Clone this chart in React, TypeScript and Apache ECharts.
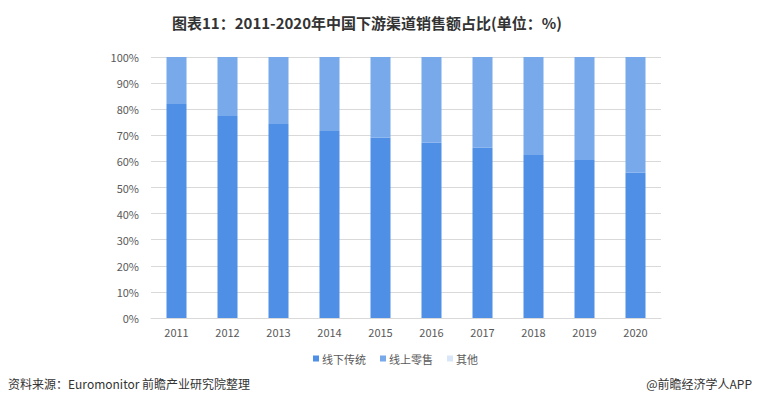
import React, { useEffect, useRef } from "react";
import * as echarts from "echarts";

const years = ["2011", "2012", "2013", "2014", "2015", "2016", "2017", "2018", "2019", "2020"];
const offline = [82.0, 77.4, 74.3, 71.6, 69.2, 67.2, 65.2, 62.5, 60.5, 55.7];
const online = [18.0, 22.6, 25.7, 28.4, 30.8, 32.8, 34.8, 37.5, 39.5, 44.3];
const others = [0, 0, 0, 0, 0, 0, 0, 0, 0, 0];
const seriesNames = ["线下传统", "线上零售", "其他"];
const seriesColors = ["#4f8fe6", "#77a9eb", "#d9e6f8"];

export default function App() {
  const ref = useRef<HTMLDivElement>(null);
  useEffect(() => {
    if (!ref.current) return;
    const chart = echarts.init(ref.current, null, { renderer: "svg" });
    const font = "'Microsoft YaHei', 'Noto Sans CJK SC', sans-serif";
    const dataSets = [offline, online, others];
    chart.setOption({
      animation: false,
      backgroundColor: "#ffffff",
      title: {
        text: "图表11：2011-2020年中国下游渠道销售额占比(单位：%)",
        left: 167,
        top: 10,
        textStyle: { fontSize: 15, fontWeight: "bold", color: "#333333", fontFamily: font },
      },
      legend: {
        data: seriesNames,
        left: 308,
        top: 348,
        itemWidth: 6,
        itemHeight: 6,
        itemGap: 14,
        icon: "rect",
        textStyle: { fontSize: 11, color: "#595959", fontFamily: font, padding: [0, 0, 0, -2] },
      },
      grid: { left: 151, right: 99, top: 57, bottom: 88 },
      xAxis: {
        type: "category",
        data: years,
        axisLine: { lineStyle: { color: "#d9d9d9" } },
        axisTick: { show: false },
        axisLabel: { color: "#595959", fontSize: 11, margin: 8, fontFamily: font },
      },
      yAxis: {
        type: "value",
        min: 0,
        max: 100,
        interval: 10,
        axisLine: { show: false },
        axisTick: { show: false },
        axisLabel: { formatter: "{value}%", color: "#595959", fontSize: 11, margin: 12, fontFamily: font },
        splitLine: { lineStyle: { color: "#d9d9d9" } },
      },
      series: seriesNames.map((name, i) => ({
        name,
        type: "bar",
        stack: "total",
        barWidth: 20,
        data: dataSets[i],
        itemStyle: { color: seriesColors[i] },
      })),
      graphic: [
        {
          type: "text",
          left: 8,
          top: 377,
          style: { text: "资料来源：Euromonitor 前瞻产业研究院整理", fontSize: 12, fill: "#333333", fontFamily: font },
        },
        {
          type: "text",
          right: 8,
          top: 377,
          style: { text: "@前瞻经济学人APP", fontSize: 12, fill: "#333333", fontFamily: font },
        },
      ],
    });
    return () => chart.dispose();
  }, []);
  return <div ref={ref} style={{ width: 760, height: 406, position: "fixed", left: 0, top: 0 }} />;
}
